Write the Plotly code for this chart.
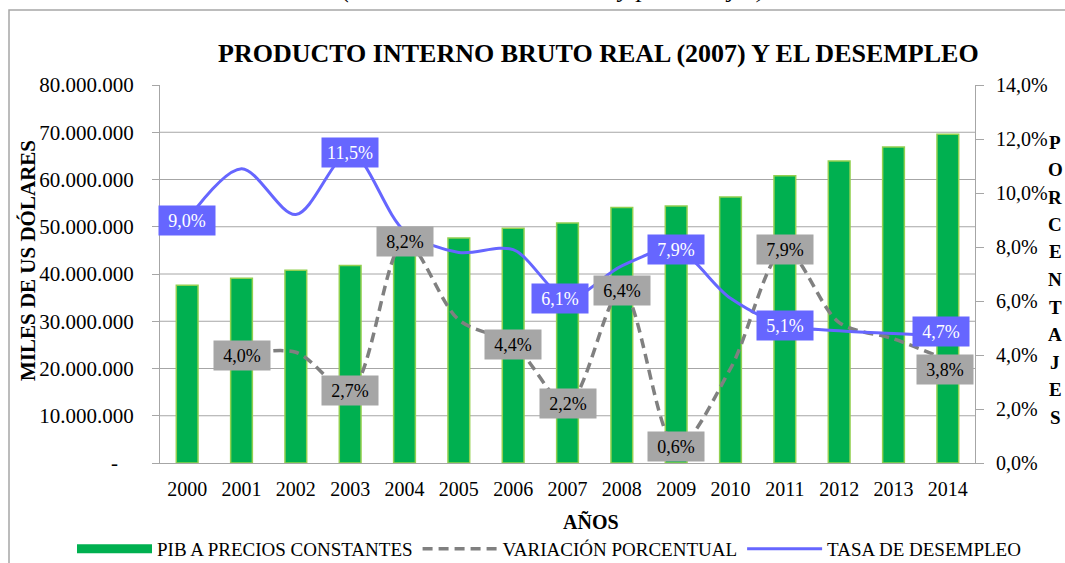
import plotly.graph_objects as go

# ---------------- data ----------------
years = [str(y) for y in range(2000, 2015)]
pib = [37.6e6, 39.1e6, 40.8e6, 41.8e6, 45.4e6, 47.6e6, 49.7e6, 50.8e6,
       54.1e6, 54.4e6, 56.3e6, 60.8e6, 63.9e6, 66.9e6, 69.6e6]
variacion = [None, 4.0, 4.1, 2.7, 8.2, 5.3, 4.4, 2.2, 6.4, 0.6, 3.5, 7.9, 5.2, 4.6, 3.8]
desempleo = [9.0, 10.9, 9.2, 11.5, 8.6, 7.8, 7.9, 6.1, 7.3, 7.9, 6.1, 5.1, 4.9, 4.8, 4.7]

var_label_idx = [1, 3, 4, 6, 7, 8, 9, 11, 14]
des_label_idx = [0, 3, 7, 9, 11, 14]

left_ticks = [0, 10e6, 20e6, 30e6, 40e6, 50e6, 60e6, 70e6, 80e6]
right_ticks = [0, 2, 4, 6, 8, 10, 12, 14]

title_text = "PRODUCTO INTERNO BRUTO REAL (2007) Y EL DESEMPLEO"
top_note = "(Miles de dólares de 2007 y porcentajes)"

# ---------------- styling ----------------
FONT = "Liberation Serif"
GREEN = "#00B050"
GREEN_EDGE = "#92D050"
GREY_LINE = "#808080"
BLUE = "#6666FF"
GRID = "#A6A6A6"

# plot-area geometry (px)
W, H = 1065, 563
L, R, T, B = 160, 90, 85, 100
PW, PH = W - L - R, H - T - B


def px_x(x):
    return (x - L) / PW


def px_y(y):
    return (H - B - y) / PH


def pct(v):
    return f"{v:.1f}".replace(".", ",") + "%"


def miles(v):
    if v == 0:
        return "-\u00a0\u00a0\u00a0"
    return f"{int(v):,}".replace(",", ".")


fig = go.Figure()

# legend-only entry giving the bar series a wide rectangular swatch
fig.add_trace(go.Scatter(
    x=[years[0]], y=[None], name="PIB A PRECIOS CONSTANTES", mode="lines",
    line=dict(color=GREEN, width=9), yaxis="y", hoverinfo="skip",
))
fig.add_trace(go.Bar(
    x=years, y=pib, name="PIB A PRECIOS CONSTANTES", showlegend=False,
    marker=dict(color=GREEN, line=dict(color=GREEN_EDGE, width=1.5)),
    yaxis="y",
))
fig.add_trace(go.Scatter(
    x=years, y=variacion, name="VARIACIÓN PORCENTUAL", mode="lines",
    line=dict(color=GREY_LINE, width=3.5, dash="10px,6px", shape="spline", smoothing=0.9),
    yaxis="y2",
))
fig.add_trace(go.Scatter(
    x=years, y=desempleo, name="TASA DE DESEMPLEO", mode="lines",
    line=dict(color=BLUE, width=3, shape="spline", smoothing=0.9),
    yaxis="y2",
))

annotations = []
shapes = []

# gridlines (not at top edge)
for v in left_ticks[1:-1]:
    shapes.append(dict(type="line", xref="paper", yref="y", x0=0, x1=1, y0=v, y1=v,
                       line=dict(color=GRID, width=1), layer="below"))

# data labels (x given as category index)
shift_var = {14: (-3, -9)}
shift_des = {7: (-8, 0), 14: (-7, 5)}
for i in var_label_idx:
    dx, dy = shift_var.get(i, (0, 0))
    annotations.append(dict(
        x=i, y=variacion[i], xref="x", yref="y2", text=pct(variacion[i]),
        showarrow=False, bgcolor="#A6A6A6", font=dict(family=FONT, size=18, color="black"),
        width=50, height=23, borderpad=3, xshift=dx, yshift=dy))
for i in des_label_idx:
    dx, dy = shift_des.get(i, (0, 0))
    annotations.append(dict(
        x=i, y=desempleo[i], xref="x", yref="y2", text=pct(desempleo[i]),
        showarrow=False, bgcolor=BLUE, font=dict(family=FONT, size=18, color="white"),
        width=50, height=23, borderpad=3, xshift=dx, yshift=dy))

# title
annotations.append(dict(
    x=px_x(598), y=px_y(53), xref="paper", yref="paper", text=f"<b>{title_text}</b>",
    showarrow=False, font=dict(family=FONT, size=26, color="black"),
    xanchor="center", yanchor="middle"))

# cropped note above the chart frame (only its lowest part is visible)
annotations.append(dict(
    x=px_x(554), y=px_y(-12), xref="paper", yref="paper", text=f"<i>{top_note}</i>",
    showarrow=False, font=dict(family=FONT, size=26, color="black"),
    xanchor="center", yanchor="middle"))

# axis titles
annotations.append(dict(
    x=px_x(28), y=px_y(261), xref="paper", yref="paper", text="<b>MILES DE US DÓLARES</b>",
    textangle=-90, showarrow=False, font=dict(family=FONT, size=21, color="black"),
    xanchor="center", yanchor="middle"))
annotations.append(dict(
    x=px_x(591), y=px_y(522), xref="paper", yref="paper", text="<b>AÑOS</b>",
    showarrow=False, font=dict(family=FONT, size=20, color="black"),
    xanchor="center", yanchor="middle"))
for k, ch in enumerate("PORCENTAJES"):
    annotations.append(dict(
        x=px_x(1055), y=px_y(142 + k * 27.5), xref="paper", yref="paper", text=f"<b>{ch}</b>",
        showarrow=False, font=dict(family=FONT, size=19, color="black"),
        xanchor="center", yanchor="middle"))

# outer frame
shapes.append(dict(type="rect", xref="paper", yref="paper",
                   x0=px_x(9), x1=px_x(1080), y0=px_y(580), y1=px_y(10),
                   line=dict(color="#A6A6A6", width=1.5), layer="below"))

fig.update_layout(
    width=W, height=H,
    margin=dict(l=L, r=R, t=T, b=B, autoexpand=False),
    paper_bgcolor="white", plot_bgcolor="white",
    font=dict(family=FONT, size=20, color="black"),
    bargap=0.6,
    showlegend=True,
    legend=dict(orientation="h", xref="paper", yref="paper",
                x=px_x(72), y=px_y(549), xanchor="left", yanchor="middle",
                font=dict(family=FONT, size=19, color="black"), itemwidth=75,
                bgcolor="rgba(0,0,0,0)", tracegroupgap=0),
    xaxis=dict(type="category", range=[-0.5, len(years) - 0.5], showline=True,
               linecolor=GRID, linewidth=1, ticks="", showgrid=False,
               tickfont=dict(family=FONT, size=20), ticklabelstandoff=8),
    yaxis=dict(range=[0, 80e6], tickvals=left_ticks, ticktext=[miles(v) for v in left_ticks],
               showgrid=False, showline=True, linecolor=GRID, linewidth=1,
               ticks="outside", ticklen=7, tickcolor=GRID, zeroline=False,
               tickfont=dict(family=FONT, size=21), ticklabelstandoff=14),
    yaxis2=dict(range=[0, 14], tickvals=right_ticks, ticktext=[pct(v) for v in right_ticks],
                overlaying="y", side="right", showgrid=False, showline=True, linecolor=GRID,
                linewidth=1, ticks="outside", ticklen=8, tickcolor=GRID, zeroline=False,
                tickfont=dict(family=FONT, size=20), ticklabelstandoff=8),
    annotations=annotations,
    shapes=shapes,
)

fig.write_html("out.html", config={"displayModeBar": False},
               post_script="document.body.style.margin='0px';")
